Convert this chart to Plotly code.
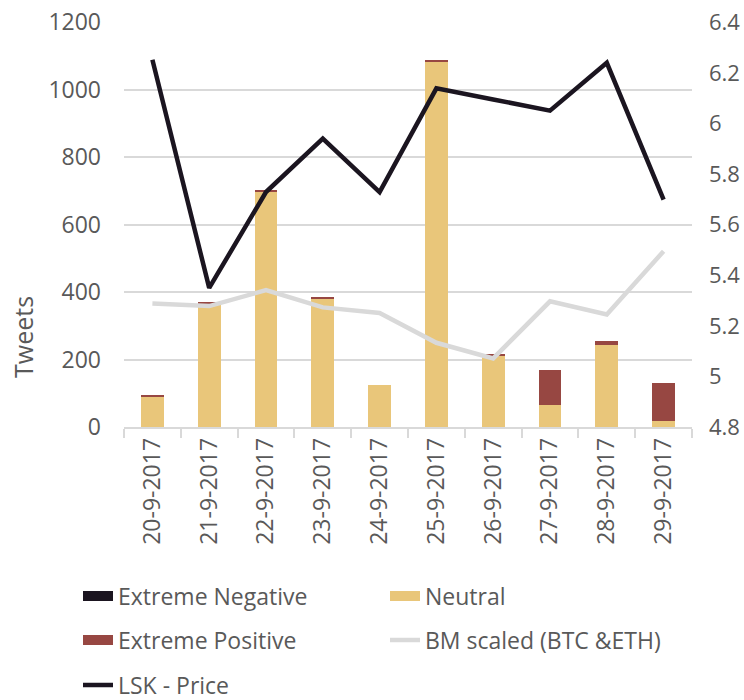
import plotly.graph_objects as go

dates = ["20-9-2017", "21-9-2017", "22-9-2017", "23-9-2017", "24-9-2017",
         "25-9-2017", "26-9-2017", "27-9-2017", "28-9-2017", "29-9-2017"]
extreme_negative = [0, 0, 0, 0, 0, 0, 0, 0, 0, 0]
neutral = [90, 366, 698, 381, 124, 1085, 211, 66, 243, 18]
extreme_positive = [2, 5, 5, 2, 0, 1, 4, 102, 13, 113]
bm_scaled = [5.288, 5.278, 5.341, 5.273, 5.251, 5.133, 5.071, 5.297, 5.245, 5.495]
lsk_price = [6.252, 5.350, 5.729, 5.940, 5.729, 6.139, 6.095, 6.051, 6.240, 5.699]

C_NEG = "#1b1520"
C_NEU = "#e9c67a"
C_POS = "#974742"
C_BM = "#d9d9d9"
C_LSK = "#1b1520"
TXT = "#595959"
FONT = "Open Sans"
FS = 23

fig = go.Figure()
fig.add_trace(go.Bar(x=dates, y=extreme_negative, marker_color=C_NEG, name="Extreme Negative",
                     showlegend=False, marker_line_width=0))
fig.add_trace(go.Bar(x=dates, y=neutral, marker_color=C_NEU, name="Neutral",
                     showlegend=False, marker_line_width=0))
fig.add_trace(go.Bar(x=dates, y=extreme_positive, marker_color=C_POS, name="Extreme Positive",
                     showlegend=False, marker_line_width=0))
fig.add_trace(go.Scatter(x=dates, y=bm_scaled, yaxis="y2", mode="lines", name="BM scaled (BTC &ETH)",
                         line=dict(color=C_BM, width=4.5), showlegend=False))
fig.add_trace(go.Scatter(x=dates, y=lsk_price, yaxis="y2", mode="lines", name="LSK - Price",
                         line=dict(color=C_LSK, width=4.5), showlegend=False))

# body margin removed by post_script, so page coords == figure coords
W, H = 744, 700
L, R, T, B = 124, 52, 22, 273
pw = W - L - R
ph = H - T - B

def px_x(x):
    return (x - L) / pw

def px_y(y):
    return (H - B - y) / ph

legfont = dict(family=FONT, size=FS, color=TXT)
common = dict(orientation="h", xanchor="left", yanchor="middle", font=legfont,
              bgcolor="rgba(0,0,0,0)", traceorder="normal", itemwidth=30)

# legend entries, each in its own legend box (2-column grid)
entries = [
    ("Extreme Negative", C_NEG, 12, "legend", 78, 596),
    ("Neutral", C_NEU, 12, "legend2", 385, 596),
    ("Extreme Positive", C_POS, 12, "legend3", 78, 640),
    ("BM scaled (BTC &ETH)", C_BM, 4.5, "legend4", 385, 640),
    ("LSK - Price", C_LSK, 4.5, "legend5", 78, 685),
]
legend_layouts = {}
for name, color, width, lg, lx, ly in entries:
    fig.add_trace(go.Scatter(x=[None], y=[None], mode="lines", name=name,
                             line=dict(color=color, width=width), legend=lg,
                             showlegend=True, hoverinfo="skip"))
    legend_layouts[lg] = dict(x=px_x(lx), y=px_y(ly), **common)

fig.update_layout(
    width=W, height=H,
    margin=dict(l=L, r=R, t=T, b=B, autoexpand=False),
    paper_bgcolor="white", plot_bgcolor="white",
    barmode="stack", bargap=0.6,
    font=dict(family=FONT, size=FS, color=TXT),
    xaxis=dict(type="category", showgrid=False, showline=True, linecolor="#d9d9d9", linewidth=1.5,
               ticks="outside", tickson="boundaries", ticklen=9, tickcolor="#d9d9d9", tickwidth=1.5,
               tickangle=-90, tickfont=dict(family=FONT, size=FS, color=TXT)),
    yaxis=dict(range=[0, 1201], tick0=0, dtick=200, showgrid=True, gridcolor="#d9d9d9", gridwidth=1.5,
               zeroline=False, showline=False, ticks="", ticklabelstandoff=22,
               ticklabeloverflow="allow",
               tickfont=dict(family=FONT, size=FS, color=TXT)),
    yaxis2=dict(range=[4.8, 6.4013], tick0=4.8, dtick=0.2, overlaying="y", side="right", showgrid=False,
                zeroline=False, showline=False, ticks="", ticklabelstandoff=16,
                ticklabeloverflow="allow",
                tickfont=dict(family=FONT, size=22, color=TXT)),
    annotations=[dict(text="Tweets", textangle=-90, xref="paper", yref="paper",
                      x=px_x(23), y=px_y(337), xanchor="center", yanchor="middle",
                      showarrow=False, font=dict(family=FONT, size=25, color=TXT))],
    **legend_layouts,
)

fig.write_html(
    "out.html",
    config={"displayModeBar": False},
    post_script="document.body.style.margin='0';document.documentElement.style.overflow='hidden';",
)
